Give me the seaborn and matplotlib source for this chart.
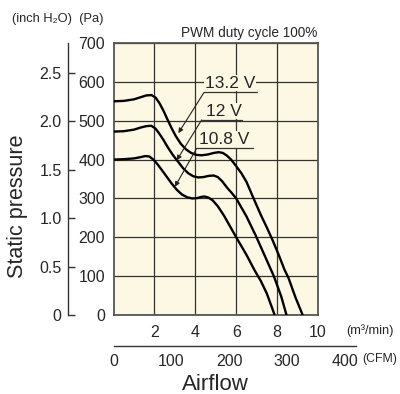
import numpy as np
import pandas as pd
import matplotlib
matplotlib.use('Agg')
import matplotlib.pyplot as plt
import seaborn as sns

# P-Q curves (airflow m3/min, static pressure Pa)
flow_132 = [0, 0.5, 1.0, 1.3, 1.6, 1.85, 2.05, 2.25, 2.45, 2.65, 2.85, 3.05, 3.3, 3.55, 3.8, 4.05,
            4.3, 4.6, 4.9, 5.15, 5.35, 5.55, 5.75, 6.0, 6.25, 6.5, 6.85, 7.2, 7.5, 7.8, 8.1, 8.35,
            8.56, 8.9, 9.25]
pres_132 = [550, 551, 555, 560, 565, 566, 560, 545, 525, 502, 480, 460, 440, 426, 417, 412,
            411, 413, 417, 419, 417, 410, 400, 383, 365, 343, 300, 258, 225, 190, 152, 118,
            95, 45, 0]

flow_120 = [0, 0.5, 1.0, 1.3, 1.6, 1.85, 2.05, 2.25, 2.45, 2.65, 2.9, 3.15, 3.4, 3.65, 3.9, 4.15,
            4.4, 4.65, 4.9, 5.1, 5.3, 5.55, 5.8, 6.0, 6.5, 6.95, 7.4, 7.84, 8.2, 8.46]
pres_120 = [472, 473, 477, 482, 486, 487, 480, 466, 450, 432, 412, 395, 378, 365, 357, 354,
            355, 358, 359, 355, 345, 328, 313, 300, 254, 205, 152, 100, 48, 0]

flow_108 = [0, 0.5, 1.0, 1.3, 1.55, 1.75, 1.95, 2.15, 2.35, 2.6, 2.85, 3.1, 3.35, 3.6, 3.85, 4.1,
            4.3, 4.45, 4.65, 4.85, 5.1, 5.4, 5.7, 6.0, 6.5, 6.9, 7.2, 7.5, 7.88]
pres_108 = [400, 401, 403, 406, 409, 408, 400, 388, 374, 356, 338, 322, 310, 303, 300, 301,
            304, 305, 302, 295, 280, 256, 228, 200, 155, 115, 88, 55, 0]

voltages = ['13.2 V', '12 V', '10.8 V']
x_ticks = [2, 4, 6, 8, 10]
pa_ticks = [0, 100, 200, 300, 400, 500, 600, 700]
inch_ticks = [0, 0.5, 1.0, 1.5, 2.0, 2.5]
inch_labels = ['0', '0.5', '1.0', '1.5', '2.0', '2.5']
cfm_ticks = [0, 100, 200, 300, 400]

PA_PER_INCH = 249.09
CFM_PER_M3 = 35.315

rows = []
for v, fl, pr in zip(voltages, [flow_132, flow_120, flow_108], [pres_132, pres_120, pres_108]):
    rows += [(v, f, p) for f, p in zip(fl, pr)]
df = pd.DataFrame(rows, columns=['voltage', 'flow', 'pressure'])

sns.set_style('white')
plt.rcParams['font.family'] = ['Liberation Sans', 'DejaVu Sans']
narrow = ['Liberation Sans Narrow', 'DejaVu Sans Condensed', 'Liberation Sans']
cream = '#fcf8e4'

fig = plt.figure(figsize=(4, 3.94), dpi=100)
ax = fig.add_axes([113.5 / 400, 1 - 315 / 394, 204.5 / 400, 272 / 394])
ax.set_facecolor(cream)

sns.lineplot(data=df, x='flow', y='pressure', hue='voltage', palette=['black'] * 3,
             estimator=None, sort=False, legend=False, lw=1.7, ax=ax, zorder=3,
             solid_joinstyle='round')

ax.set_xlim(0, 10)
ax.set_ylim(0, 700)
ax.set_xticks(x_ticks, labels=[str(t) for t in x_ticks], fontfamily=narrow, fontsize=11.5)
ax.set_yticks(pa_ticks, labels=[str(t) for t in pa_ticks], fontfamily=narrow, fontsize=11.5)
ax.tick_params(axis='x', length=0, pad=7)
ax.tick_params(axis='y', length=0, pad=6)
ax.grid(True, color='#333333', lw=0.9)
ax.set_axisbelow(True)
ax.set_xlabel('')
ax.set_ylabel('')
for s in ax.spines.values():
    s.set_color('#555555')
    s.set_linewidth(1.3)

# inch H2O axis on the left
sec = ax.secondary_yaxis(-0.2225, functions=(lambda p: p / PA_PER_INCH, lambda i: i * PA_PER_INCH))
sec.set_yticks(inch_ticks, labels=inch_labels, fontfamily=narrow, fontsize=11.5)
sec.tick_params(direction='in', length=5, width=1, color='#333333', pad=4.5)
sec.spines['left'].set_color('#333333')
sec.spines['left'].set_linewidth(1)

# CFM axis below
cfm_right = 10 * CFM_PER_M3 * 242.5 / 204.5
ax2 = fig.add_axes([113.5 / 400, 1 - 345.7 / 394, 242.5 / 400, 0.0001])
ax2.set_facecolor('none')
ax2.set_xlim(0, cfm_right)
ax2.set_xticks(cfm_ticks, labels=[str(t) for t in cfm_ticks], fontfamily=narrow, fontsize=11.5)
ax2.set_yticks([])
for k in ['top', 'left', 'right']:
    ax2.spines[k].set_visible(False)
ax2.spines['bottom'].set_color('#333333')
ax2.spines['bottom'].set_linewidth(1)
ax2.tick_params(axis='x', direction='in', length=5, width=1, color='#333333', pad=6)

# voltage labels with leaders
labels = [
    ('13.2 V', 4.45, 597, 4.43, 7.04, 573, (3.17, 468)),
    ('12 V', 4.5, 525, 4.31, 6.26, 502, (3.09, 398)),
    ('10.8 V', 4.2, 452, 4.07, 6.84, 429, (3.0, 330)),
]
for txt, tx, ty, ux0, ux1, uy, tip in labels:
    ax.text(tx, ty, txt, fontsize=12.5, ha='left', va='center', zorder=4,
            bbox=dict(boxstyle='square,pad=0.05', fc=cream, ec='none'))
    ax.plot([ux0, ux1], [uy, uy], color='#333333', lw=0.9, zorder=5)
    ax.annotate('', xy=tip, xytext=(ux0, uy), zorder=5,
                arrowprops=dict(arrowstyle='-|>', color='#222222', lw=0.8,
                                shrinkA=0, shrinkB=0, mutation_scale=7))

ax.text(1.14, -0.057, '(m³/min)', transform=ax.transAxes, fontsize=9.2, ha='left', va='center')
fig.text(362 / 400, 1 - 359 / 394, '(CFM)', fontsize=8.8, ha='left', va='center')
fig.text(215 / 400, 1 - 384 / 394, 'Airflow', fontsize=16, ha='center', va='center')
fig.text(18 / 400, 1 - 206 / 394, 'Static pressure', fontsize=15.5, rotation=90, ha='center', va='center')
fig.text(12 / 400, 1 - 19 / 394, '(inch H₂O)  (Pa)', fontsize=9.3, ha='left', va='center')
fig.text(317 / 400, 1 - 33 / 394, 'PWM duty cycle 100%', fontsize=9.8, ha='right', va='center')

fig.savefig('out.png', dpi=100)
